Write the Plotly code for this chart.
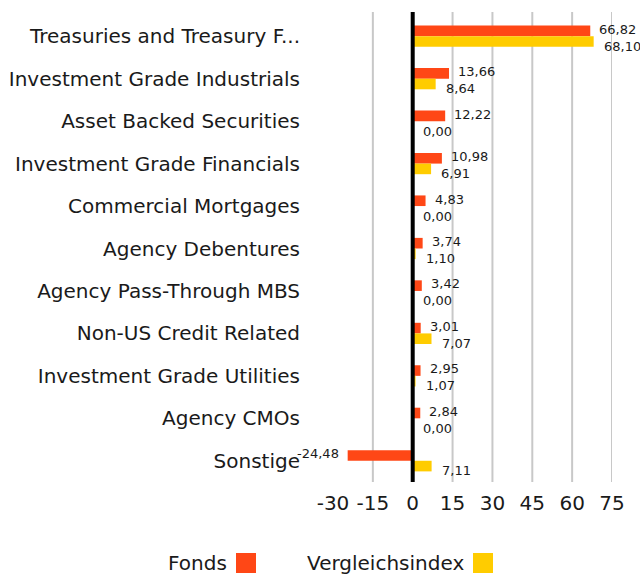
import plotly.graph_objects as go

categories = ["Treasuries and Treasury F...", "Investment Grade Industrials", "Asset Backed Securities",
              "Investment Grade Financials", "Commercial Mortgages", "Agency Debentures",
              "Agency Pass-Through MBS", "Non-US Credit Related", "Investment Grade Utilities",
              "Agency CMOs", "Sonstige"]
fonds = [66.82, 13.66, 12.22, 10.98, 4.83, 3.74, 3.42, 3.01, 2.95, 2.84, -24.48]
index = [68.10, 8.64, 0.00, 6.91, 0.00, 1.10, 0.00, 7.07, 1.07, 0.00, 7.11]
tick_vals = [-30, -15, 0, 15, 30, 45, 60, 75]
tick_text = ["-30", "-15", "0", "15", "30", "45", "60", "75"]
series_names = ["Fonds", "Vergleichsindex"]
colors = ["#FF4716", "#FFCC00"]

FONT = "DejaVu Sans"
TXT = "#1a1a1a"
fig = go.Figure()
fig.add_trace(go.Bar(y=categories, x=fonds, orientation="h", name=series_names[0],
                     marker=dict(color=colors[0], line=dict(width=0)), hoverinfo="skip"))
fig.add_trace(go.Bar(y=categories, x=index, orientation="h", name=series_names[1],
                     marker=dict(color=colors[1], line=dict(width=0)), hoverinfo="skip"))

def fmt(v):
    return f"{v:.2f}".replace(".", ",")

ann = []
for c, v in zip(categories, fonds):
    ann.append(dict(x=v, y=c, text=fmt(v), showarrow=False,
                    xanchor="left" if v >= 0 else "right", xshift=7 if v >= 0 else -7,
                    yshift=7, font=dict(size=13, color=TXT, family=FONT)))
for c, v in zip(categories, index):
    ann.append(dict(x=v, y=c, text=fmt(v), showarrow=False,
                    xanchor="left", xshift=8, yshift=-10,
                    font=dict(size=13, color=TXT, family=FONT)))

# legend (text then square)
L, R, T, B = 333, 28, 15, 97
W = 640 - L - R
H = 579 - T - B
def px(x):
    return (x - L) / W
def py(y):
    return (579 - B - y) / H

ann.append(dict(x=px(229), y=py(563), xref="paper", yref="paper", text=series_names[0],
                showarrow=False, xanchor="right", yanchor="middle",
                font=dict(size=20, color=TXT, family=FONT)))
ann.append(dict(x=px(466), y=py(563), xref="paper", yref="paper", text=series_names[1],
                showarrow=False, xanchor="right", yanchor="middle",
                font=dict(size=20, color=TXT, family=FONT)))
shapes = [
    dict(type="rect", xref="paper", yref="paper", x0=px(236), x1=px(256), y0=py(573), y1=py(553),
         fillcolor=colors[0], line=dict(width=0)),
    dict(type="rect", xref="paper", yref="paper", x0=px(473), x1=px(493), y0=py(573), y1=py(553),
         fillcolor=colors[1], line=dict(width=0)),
]
for t in tick_vals:
    if t in (-30, 0):
        continue
    shapes.append(dict(type="line", xref="x", yref="paper", x0=t, x1=t, y0=0, y1=py(12),
                       line=dict(color="#c8c8c8", width=2), layer="below"))
shapes.append(dict(type="line", xref="x", yref="paper", x0=0, x1=0, y0=0, y1=py(12),
                   line=dict(color="#000000", width=4), layer="above"))

fig.update_layout(
    width=640, height=579,
    margin=dict(l=L, r=R, t=T, b=B, autoexpand=False),
    barmode="group", bargap=0.5, bargroupgap=0,
    showlegend=False,
    plot_bgcolor="white", paper_bgcolor="white",
    font=dict(family=FONT, size=20, color=TXT),
    annotations=ann, shapes=shapes,
    xaxis=dict(range=[-30, 75], tickvals=tick_vals, ticktext=tick_text, showgrid=False,
               zeroline=False, showline=False, ticks="outside", ticklen=3,
               tickcolor="rgba(0,0,0,0)", automargin=False,
               tickfont=dict(size=20, family=FONT, color=TXT)),
    yaxis=dict(autorange="reversed", showgrid=False, zeroline=False, showline=False,
               ticks="outside", ticklen=28, tickcolor="rgba(0,0,0,0)", automargin=False,
               tickfont=dict(size=20, family=FONT, color=TXT)),
)
fig.update_traces(cliponaxis=False)
fig.write_html("out.html", config={"displayModeBar": False},
               post_script="document.body.style.margin='0';document.body.style.padding='0';")
